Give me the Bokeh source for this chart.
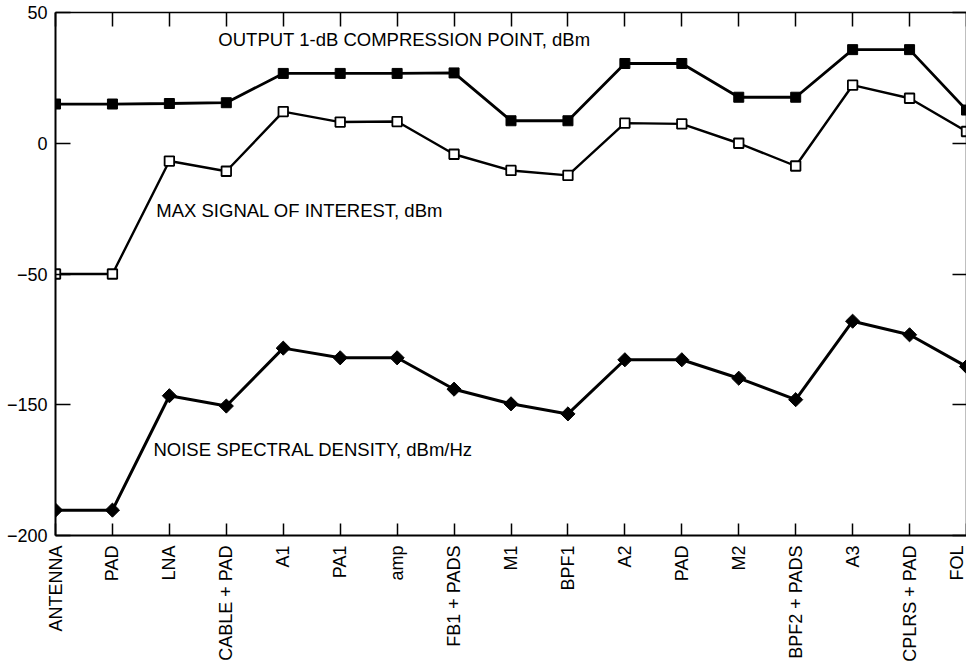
import math
import numpy as np
from bokeh.plotting import figure
from bokeh.models import Range1d, FixedTicker, LinearAxis, ColumnDataSource
from bokeh.core.properties import value
from bokeh.embed import file_html
from bokeh.resources import INLINE

# ---- data ----
stages = ["ANTENNA", "PAD", "LNA", "CABLE + PAD", "A1", "PA1", "amp", "FB1 + PADS",
          "M1", "BPF1", "A2", "PAD", "M2", "BPF2 + PADS", "A3", "CPLRS + PAD", "FOL"]
p1db_out = [15.0, 15.0, 15.2, 15.5, 26.7, 26.7, 26.7, 26.9, 8.6, 8.6,
            30.5, 30.5, 17.6, 17.6, 35.8, 35.8, 12.7]
max_signal = [-50.0, -50.0, -6.8, -10.7, 12.1, 8.1, 8.3, -4.2, -10.4, -12.3,
              7.7, 7.4, 0.0, -8.7, 22.2, 17.2, 4.5]
noise_density = [-190.3, -190.3, -143.1, -150.5, -106.7, -114.1, -114.1, -138.1,
                 -149.3, -153.5, -115.6, -115.6, -129.7, -146.1, -86.1, -96.5, -120.8]
y_tick_values = [50, 0, -50, -150, -200]
y_tick_labels = ["50", "0", "\u221250", "\u2212150", "\u2212200"]
series_labels = ["OUTPUT 1-dB COMPRESSION POINT, dBm",
                 "MAX SIGNAL OF INTEREST, dBm",
                 "NOISE SPECTRAL DENSITY, dBm/Hz"]

# ---- broken (piecewise) y scale: the five ticks are evenly spaced ----
sorted_vals = sorted(y_tick_values)
axis_pos = [50 - 50 * i for i in range(len(y_tick_values))][::-1]  # -150..50


def ymap(v):
    return np.interp(np.asarray(v, dtype=float), sorted_vals, axis_pos)


x = list(range(len(stages)))
FONT = value("Liberation Sans")

p = figure(frame_width=911, frame_height=523,
           x_range=Range1d(0, len(stages) - 1), y_range=Range1d(min(axis_pos), max(axis_pos)),
           output_backend="svg", toolbar_location=None,
           min_border_left=55, min_border_right=0, min_border_top=12, min_border_bottom=10,
           background_fill_color="white", border_fill_color="white",
           outline_line_color=None)
p.xgrid.visible = False
p.ygrid.visible = False

# left axis
yax = p.yaxis[0]
tick_pos = [float(t) for t in ymap(y_tick_values)]
yax.ticker = FixedTicker(ticks=tick_pos)
yax.major_label_overrides = {tp: lab for tp, lab in zip(tick_pos, y_tick_labels)}
yax.major_tick_in = 15
yax.major_tick_out = 0
yax.minor_tick_in = 0
yax.minor_tick_out = 0
yax.axis_line_width = 2
yax.major_tick_line_width = 1.5
yax.major_label_standoff = 8
yax.major_label_text_font = "Liberation Sans"
yax.major_label_text_font_size = "18px"
yax.major_label_text_color = "black"
yax.axis_line_color = "black"

# bottom axis
xax = p.xaxis[0]
xax.ticker = FixedTicker(ticks=x)
xax.major_label_overrides = {i: s for i, s in enumerate(stages)}
xax.major_label_orientation = math.pi / 2
xax.major_tick_in = 12
xax.major_tick_out = 0
xax.minor_tick_in = 0
xax.minor_tick_out = 0
xax.axis_line_width = 2
xax.major_tick_line_width = 1.5
xax.major_label_standoff = 10
xax.major_label_text_font = "Liberation Sans"
xax.major_label_text_font_size = "18px"
xax.major_label_text_color = "black"
xax.axis_line_color = "black"

# top axis (ticks only, no labels)
top = LinearAxis(ticker=FixedTicker(ticks=x), major_tick_in=14, major_tick_out=0,
                 minor_tick_in=0, minor_tick_out=0,
                 major_label_overrides={i: "" for i in x},
                 major_label_text_font_size="1px",
                 major_label_standoff=0, axis_line_width=1.5, major_tick_line_width=1.5)
p.add_layout(top, "above")

# right axis (ticks only, no labels)
right = LinearAxis(ticker=FixedTicker(ticks=tick_pos), major_tick_in=14, major_tick_out=0,
                   minor_tick_in=0, minor_tick_out=0,
                   major_label_overrides={tp: "" for tp in tick_pos},
                   major_label_text_font_size="1px",
                   major_label_standoff=0, axis_line_width=1.5, major_tick_line_width=1.5)
p.add_layout(right, "right")

src = ColumnDataSource(dict(x=x, p1db=ymap(p1db_out), sig=ymap(max_signal), noise=ymap(noise_density)))

p.line("x", "p1db", source=src, line_color="black", line_width=2.8)
p.scatter("x", "p1db", source=src, marker="square", size=10, fill_color="black", line_color="black")

p.line("x", "sig", source=src, line_color="black", line_width=2.4)
p.scatter("x", "sig", source=src, marker="square", size=9.5, fill_color="white",
          line_color="black", line_width=1.8)

p.line("x", "noise", source=src, line_color="black", line_width=3)
p.scatter("x", "noise", source=src, marker="square", angle=math.pi / 4, size=10,
          fill_color="black", line_color="black")

# series labels (positions in stage-index / dB units)
label_x = [2.86, 1.77, 1.72]
label_y = [39.7, -25.7, -167.1]
p.text(x=label_x, y=list(ymap(label_y)), text=series_labels, text_font=FONT,
       text_font_size="18.5px", text_color="black", text_align="left", text_baseline="middle")

open("out.html", "w").write(file_html(p, INLINE))
